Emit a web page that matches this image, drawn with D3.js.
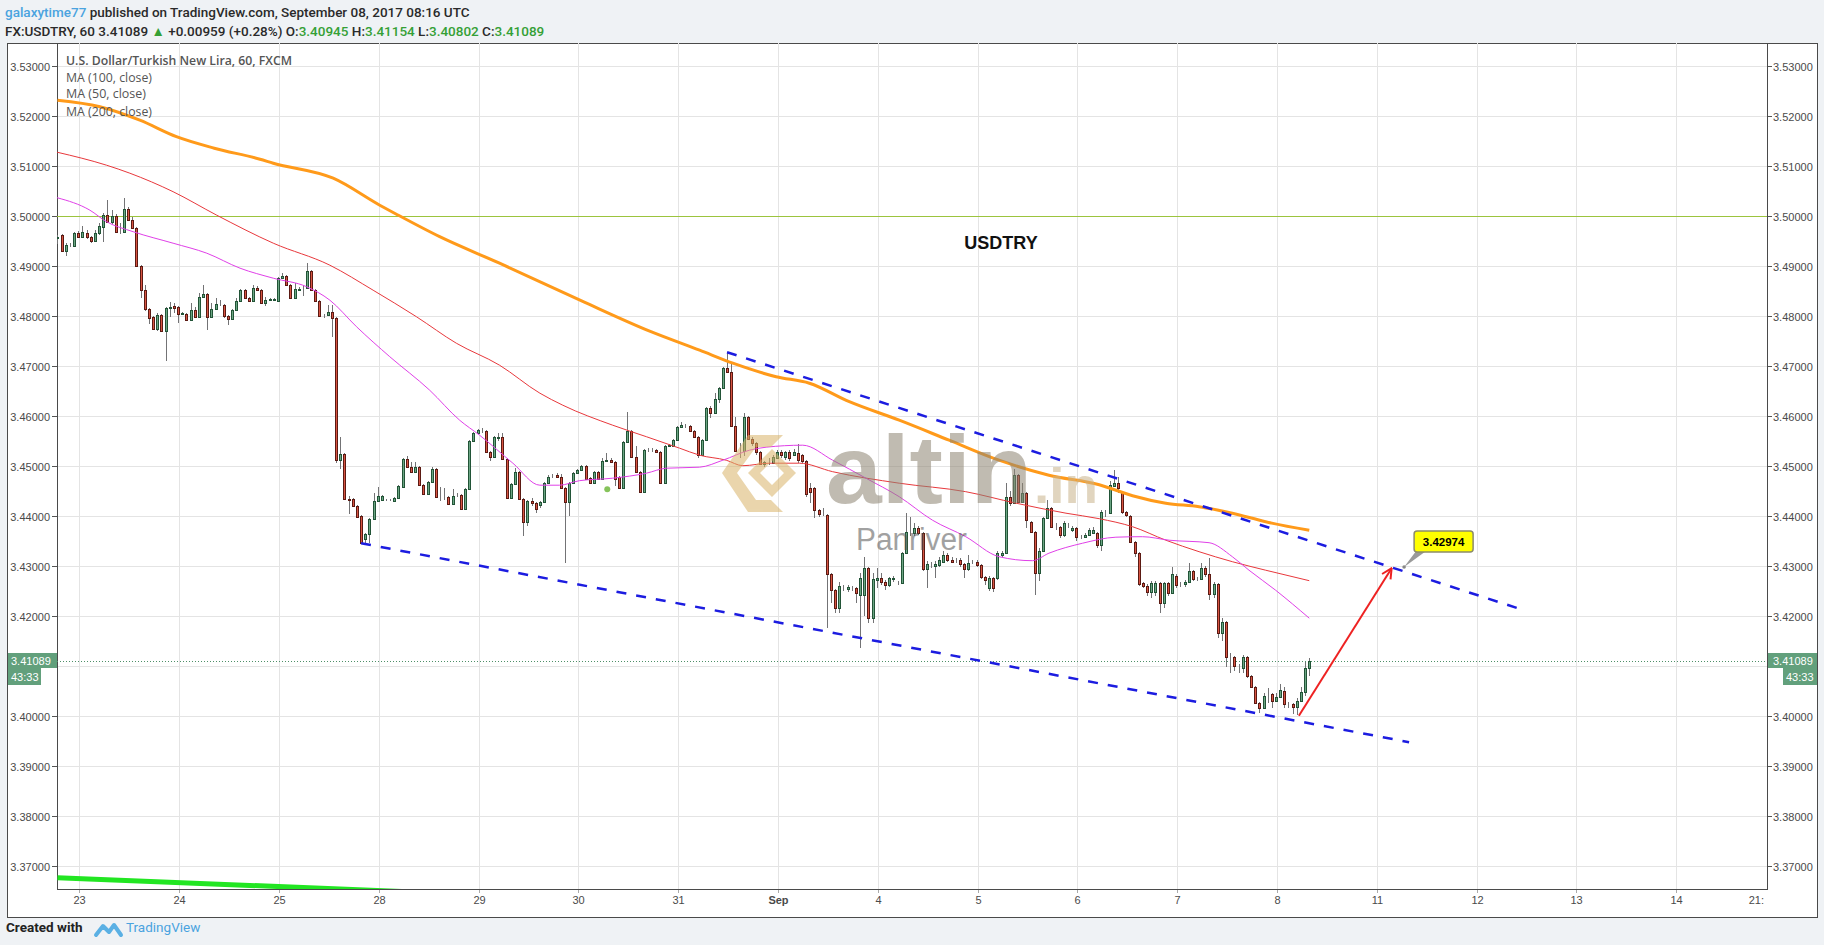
<!DOCTYPE html>
<html><head><meta charset="utf-8">
<script src="https://cdn.jsdelivr.net/npm/d3@7"></script>
<style>
html,body{margin:0;padding:0;background:#eff2f5;}
svg{display:block;}
</style></head><body>
<svg id="c" width="1824" height="945"></svg>
<script>
// ---------------- DATA ----------------
const FIRST_BAR = -6; // hourly bar index of first candle (0 = Aug 23 00:00)
// [open, high, low, close]
const ohlc = [
[3.4955,3.4962,3.4944,3.4958],[3.4961,3.4963,3.4927,3.4929],[3.4929,3.4945,3.4919,3.4942],[3.4941,3.4945,3.4938,3.4942],
[3.4939,3.4968,3.4937,3.4966],[3.4966,3.4970,3.4955,3.4957],[3.4957,3.4979,3.4955,3.4967],[3.4966,3.4972,3.4954,3.4957],
[3.4957,3.4960,3.4946,3.4949],[3.4949,3.4972,3.4947,3.4966],[3.4966,3.4985,3.4962,3.4979],[3.4977,3.5006,3.4947,3.5002],
[3.5002,3.5032,3.4985,3.4987],[3.4987,3.5012,3.4984,3.5000],[3.5000,3.5004,3.4965,3.4967],[3.4967,3.4985,3.4964,3.4968],
[3.4967,3.5036,3.4965,3.5014],[3.5014,3.5018,3.4990,3.4992],[3.4992,3.4998,3.4973,3.4975],[3.4976,3.4978,3.4897,3.4899],
[3.4899,3.4901,3.4835,3.4852],[3.4852,3.4862,3.4810,3.4813],[3.4813,3.4815,3.4783,3.4795],[3.4797,3.4800,3.4771,3.4773],
[3.4773,3.4805,3.4770,3.4801],[3.4801,3.4803,3.4768,3.4770],[3.4770,3.4818,3.4709,3.4816],[3.4816,3.4827,3.4797,3.4818],
[3.4819,3.4825,3.4805,3.4816],[3.4818,3.4820,3.4786,3.4804],[3.4804,3.4808,3.4801,3.4805],[3.4804,3.4806,3.4790,3.4792],
[3.4792,3.4825,3.4790,3.4812],[3.4812,3.4818,3.4796,3.4798],[3.4798,3.4845,3.4796,3.4837],[3.4837,3.4861,3.4835,3.4843],
[3.4843,3.4845,3.4772,3.4798],[3.4798,3.4825,3.4796,3.4814],[3.4814,3.4836,3.4812,3.4823],[3.4822,3.4832,3.4820,3.4822],
[3.4822,3.4824,3.4795,3.4800],[3.4800,3.4802,3.4782,3.4793],[3.4793,3.4814,3.4791,3.4812],[3.4812,3.4835,3.4810,3.4829],
[3.4829,3.4853,3.4827,3.4851],[3.4851,3.4853,3.4833,3.4835],[3.4835,3.4837,3.4827,3.4829],[3.4829,3.4862,3.4827,3.4855],
[3.4855,3.4860,3.4849,3.4851],[3.4851,3.4853,3.4824,3.4826],[3.4826,3.4838,3.4820,3.4831],[3.4831,3.4836,3.4829,3.4834],
[3.4831,3.4836,3.4829,3.4834],[3.4829,3.4877,3.4827,3.4875],[3.4875,3.4885,3.4873,3.4879],[3.4879,3.4882,3.4859,3.4861],
[3.4861,3.4863,3.4834,3.4836],[3.4836,3.4865,3.4834,3.4853],[3.4852,3.4857,3.4850,3.4854],[3.4855,3.4862,3.4840,3.4855],
[3.4855,3.4905,3.4853,3.4889],[3.4889,3.4892,3.4850,3.4852],[3.4852,3.4854,3.4827,3.4829],[3.4829,3.4831,3.4797,3.4799],
[3.4802,3.4804,3.4795,3.4801],[3.4802,3.4822,3.4800,3.4808],[3.4808,3.4822,3.4757,3.4795],[3.4795,3.4797,3.4505,3.4511],
[3.4511,3.4558,3.4493,3.4523],[3.4523,3.4525,3.4431,3.4433],[3.4433,3.4439,3.4403,3.4432],[3.4433,3.4435,3.4418,3.4420],
[3.4420,3.4422,3.4396,3.4398],[3.4399,3.4401,3.4343,3.4345],[3.4353,3.4365,3.4345,3.4363],[3.4363,3.4395,3.4345,3.4393],
[3.4393,3.4445,3.4391,3.4429],[3.4429,3.4458,3.4427,3.4439],[3.4431,3.4441,3.4429,3.4439],[3.4431,3.4433,3.4429,3.4431],
[3.4431,3.4433,3.4429,3.4431],[3.4429,3.4437,3.4427,3.4435],[3.4435,3.4461,3.4433,3.4459],[3.4458,3.4515,3.4456,3.4513],
[3.4513,3.4520,3.4495,3.4497],[3.4497,3.4508,3.4486,3.4488],[3.4488,3.4508,3.4486,3.4498],[3.4498,3.4500,3.4459,3.4461],
[3.4461,3.4463,3.4441,3.4443],[3.4443,3.4469,3.4441,3.4467],[3.4467,3.4498,3.4465,3.4493],[3.4493,3.4495,3.4436,3.4438],
[3.4439,3.4458,3.4430,3.4439],[3.4439,3.4455,3.4432,3.4439],[3.4438,3.4440,3.4421,3.4423],[3.4423,3.4453,3.4421,3.4439],
[3.4441,3.4445,3.4438,3.4441],[3.4441,3.4443,3.4411,3.4413],[3.4413,3.4455,3.4411,3.4453],[3.4453,3.4551,3.4451,3.4549],
[3.4549,3.4567,3.4547,3.4565],[3.4565,3.4573,3.4563,3.4571],[3.4570,3.4575,3.4566,3.4570],[3.4570,3.4572,3.4525,3.4527],
[3.4527,3.4529,3.4510,3.4517],[3.4517,3.4559,3.4515,3.4557],[3.4556,3.4565,3.4550,3.4557],[3.4557,3.4565,3.4511,3.4513],
[3.4514,3.4516,3.4434,3.4436],[3.4436,3.4465,3.4434,3.4463],[3.4463,3.4495,3.4461,3.4487],[3.4487,3.4489,3.4431,3.4433],
[3.4433,3.4435,3.4359,3.4388],[3.4388,3.4431,3.4380,3.4429],[3.4429,3.4435,3.4420,3.4426],[3.4426,3.4428,3.4405,3.4413],
[3.4421,3.4430,3.4415,3.4428],[3.4428,3.4467,3.4426,3.4465],[3.4465,3.4481,3.4463,3.4477],[3.4479,3.4483,3.4475,3.4479],
[3.4481,3.4485,3.4475,3.4477],[3.4477,3.4483,3.4453,3.4455],[3.4455,3.4457,3.4306,3.4428],[3.4428,3.4468,3.4399,3.4466],
[3.4466,3.4487,3.4464,3.4485],[3.4485,3.4493,3.4483,3.4491],[3.4491,3.4501,3.4489,3.4499],[3.4499,3.4501,3.4471,3.4473],
[3.4475,3.4477,3.4463,3.4465],[3.4465,3.4489,3.4463,3.4487],[3.4487,3.4489,3.4471,3.4473],[3.4473,3.4515,3.4471,3.4509],
[3.4509,3.4525,3.4507,3.4511],[3.4511,3.4515,3.4505,3.4507],[3.4507,3.4509,3.4460,3.4474],[3.4477,3.4479,3.4453,3.4455],
[3.4455,3.4549,3.4453,3.4547],[3.4547,3.4608,3.4545,3.4569],[3.4569,3.4571,3.4516,3.4518],[3.4518,3.4540,3.4486,3.4488],
[3.4488,3.4490,3.4445,3.4447],[3.4447,3.4533,3.4445,3.4531],[3.4531,3.4535,3.4527,3.4531],[3.4531,3.4535,3.4527,3.4531],
[3.4531,3.4533,3.4525,3.4527],[3.4527,3.4529,3.4463,3.4465],[3.4465,3.4541,3.4463,3.4539],[3.4539,3.4543,3.4537,3.4541],
[3.4539,3.4553,3.4537,3.4551],[3.4551,3.4580,3.4549,3.4578],[3.4578,3.4588,3.4576,3.4581],[3.4580,3.4584,3.4576,3.4580],
[3.4580,3.4582,3.4568,3.4570],[3.4570,3.4572,3.4555,3.4557],[3.4557,3.4559,3.4515,3.4521],[3.4521,3.4553,3.4519,3.4551],
[3.4551,3.4617,3.4549,3.4615],[3.4615,3.4620,3.4595,3.4605],[3.4605,3.4645,3.4603,3.4633],[3.4633,3.4657,3.4625,3.4655],
[3.4655,3.4697,3.4653,3.4695],[3.4695,3.4727,3.4685,3.4687],[3.4687,3.4705,3.4578,3.4580],[3.4580,3.4598,3.4527,3.4529],
[3.4529,3.4545,3.4515,3.4529],[3.4529,3.4605,3.4520,3.4597],[3.4597,3.4599,3.4551,3.4553],[3.4553,3.4558,3.4540,3.4545],
[3.4545,3.4548,3.4522,3.4528],[3.4528,3.4530,3.4501,3.4503],[3.4503,3.4510,3.4498,3.4508],[3.4506,3.4515,3.4502,3.4506],
[3.4506,3.4522,3.4504,3.4517],[3.4515,3.4532,3.4513,3.4528],[3.4528,3.4532,3.4515,3.4521],[3.4518,3.4530,3.4512,3.4528],
[3.4528,3.4532,3.4510,3.4515],[3.4521,3.4533,3.4519,3.4528],[3.4526,3.4543,3.4505,3.4511],[3.4521,3.4523,3.4505,3.4510],
[3.4510,3.4512,3.4437,3.4443],[3.4455,3.4465,3.4425,3.4447],[3.4455,3.4457,3.4395,3.4411],[3.4411,3.4413,3.4398,3.4403],
[3.4403,3.4415,3.4400,3.4403],[3.4401,3.4403,3.4175,3.4283],[3.4283,3.4285,3.4225,3.4251],[3.4251,3.4253,3.4205,3.4215],
[3.4215,3.4268,3.4205,3.4259],[3.4255,3.4262,3.4250,3.4255],[3.4253,3.4262,3.4248,3.4258],[3.4255,3.4260,3.4250,3.4255],
[3.4255,3.4258,3.4225,3.4246],[3.4241,3.4285,3.4135,3.4275],[3.4241,3.4318,3.4200,3.4295],[3.4295,3.4297,3.4185,3.4195],
[3.4195,3.4285,3.4185,3.4273],[3.4271,3.4295,3.4255,3.4275],[3.4275,3.4285,3.4262,3.4268],[3.4268,3.4272,3.4252,3.4261],
[3.4261,3.4278,3.4258,3.4275],[3.4273,3.4280,3.4268,3.4275],[3.4266,3.4270,3.4262,3.4266],[3.4266,3.4328,3.4264,3.4325],
[3.4325,3.4405,3.4323,3.4367],[3.4368,3.4398,3.4360,3.4368],[3.4365,3.4385,3.4360,3.4375],[3.4375,3.4380,3.4362,3.4365],
[3.4365,3.4367,3.4290,3.4293],[3.4293,3.4310,3.4255,3.4303],[3.4301,3.4308,3.4295,3.4301],[3.4299,3.4310,3.4275,3.4303],
[3.4301,3.4318,3.4298,3.4311],[3.4308,3.4330,3.4305,3.4321],[3.4321,3.4325,3.4308,3.4311],[3.4311,3.4318,3.4305,3.4308],
[3.4311,3.4315,3.4306,3.4311],[3.4311,3.4315,3.4298,3.4303],[3.4303,3.4306,3.4275,3.4293],[3.4293,3.4322,3.4290,3.4306],
[3.4308,3.4312,3.4303,3.4308],[3.4308,3.4312,3.4298,3.4301],[3.4301,3.4303,3.4274,3.4277],[3.4277,3.4280,3.4262,3.4271],
[3.4255,3.4280,3.4250,3.4275],[3.4275,3.4278,3.4248,3.4255],[3.4275,3.4330,3.4272,3.4325],[3.4322,3.4330,3.4318,3.4325],
[3.4325,3.4465,3.4323,3.4437],[3.4438,3.4450,3.4420,3.4425],[3.4425,3.4493,3.4423,3.4481],[3.4481,3.4483,3.4426,3.4428],
[3.4428,3.4465,3.4426,3.4445],[3.4445,3.4447,3.4375,3.4391],[3.4388,3.4390,3.4365,3.4368],[3.4368,3.4370,3.4241,3.4285],
[3.4285,3.4335,3.4270,3.4330],[3.4330,3.4397,3.4328,3.4395],[3.4395,3.4432,3.4393,3.4415],[3.4415,3.4417,3.4375,3.4378],
[3.4378,3.4385,3.4372,3.4378],[3.4378,3.4380,3.4355,3.4361],[3.4361,3.4390,3.4358,3.4385],[3.4381,3.4386,3.4375,3.4381],
[3.4371,3.4380,3.4368,3.4375],[3.4375,3.4378,3.4350,3.4358],[3.4358,3.4362,3.4354,3.4358],[3.4358,3.4365,3.4356,3.4361],
[3.4361,3.4375,3.4359,3.4371],[3.4365,3.4378,3.4363,3.4371],[3.4365,3.4367,3.4335,3.4341],[3.4341,3.4412,3.4330,3.4408],
[3.4408,3.4412,3.4398,3.4407],[3.4405,3.4470,3.4403,3.4461],[3.4459,3.4491,3.4457,3.4465],[3.4465,3.4478,3.4445,3.4455],
[3.4448,3.4450,3.4404,3.4407],[3.4407,3.4409,3.4398,3.4401],[3.4399,3.4401,3.4345,3.4347],[3.4347,3.4349,3.4318,3.4325],
[3.4325,3.4327,3.4260,3.4263],[3.4265,3.4268,3.4255,3.4260],[3.4260,3.4263,3.4240,3.4247],[3.4247,3.4270,3.4235,3.4265],
[3.4247,3.4270,3.4240,3.4265],[3.4265,3.4268,3.4205,3.4225],[3.4225,3.4268,3.4215,3.4265],[3.4265,3.4267,3.4240,3.4245],
[3.4245,3.4297,3.4243,3.4283],[3.4279,3.4283,3.4255,3.4261],[3.4263,3.4268,3.4258,3.4263],[3.4263,3.4272,3.4258,3.4267],
[3.4267,3.4305,3.4265,3.4289],[3.4289,3.4292,3.4270,3.4274],[3.4274,3.4278,3.4270,3.4274],[3.4274,3.4305,3.4272,3.4295],
[3.4295,3.4300,3.4278,3.4283],[3.4283,3.4315,3.4231,3.4243],[3.4243,3.4268,3.4235,3.4263],[3.4263,3.4265,3.4155,3.4165],
[3.4165,3.4195,3.4150,3.4188],[3.4188,3.4190,3.4098,3.4117],[3.4117,3.4125,3.4085,3.4117],[3.4117,3.4120,3.4090,3.4099],
[3.4099,3.4103,3.4085,3.4099],[3.4095,3.4122,3.4085,3.4118],[3.4117,3.4119,3.4075,3.4079],[3.4079,3.4081,3.4055,3.4058],
[3.4058,3.4060,3.4024,3.4026],[3.4026,3.4028,3.4005,3.4015],[3.4015,3.4045,3.4013,3.4039],[3.4043,3.4055,3.4025,3.4043],
[3.4043,3.4046,3.4015,3.4030],[3.4030,3.4045,3.4028,3.4037],[3.4037,3.4063,3.4035,3.4051],[3.4050,3.4058,3.4015,3.4023],
[3.4023,3.4028,3.4015,3.4023],[3.4023,3.4026,3.4003,3.4017],[3.4017,3.4035,3.4001,3.4030],[3.4030,3.4058,3.4028,3.4048],
[3.4048,3.4108,3.4040,3.4095],[3.40945,3.41154,3.40802,3.41089]
];
const lastPrice = 3.41089;
const countdown = "43:33";
const dayLabels = ["23","24","25","28","29","30","31","Sep","4","5","6","7","8","11","12","13","14"];
const priceTicks = [3.37,3.38,3.39,3.40,3.41,3.42,3.43,3.44,3.45,3.46,3.47,3.48,3.49,3.50,3.51,3.52,3.53];
// moving averages: [bar index, value]
const ma200 = [[-6,3.5231],[4.2,3.5218],[13.8,3.5191],[22.6,3.5158],[31.7,3.5135],[42.7,3.5113],[45.9,3.5105],[60.3,3.5075],[71.5,3.5021],[75.5,3.5003],[85.9,3.4958],[100.3,3.4905],[119.9,3.4830],[136.7,3.4768],[148.4,3.4731],[156.4,3.4705],[166.8,3.4678],[174.8,3.4665],[184.4,3.4628],[196.4,3.4591],[208.4,3.4551],[220.4,3.4511],[232.4,3.4481],[244.5,3.4462],[252.5,3.4440],[260.5,3.4425],[268.5,3.4418],[276.5,3.4405],[284.5,3.4388],[295,3.4371]];
const ma100 = [[-6.1,3.5127],[5.8,3.5101],[11.4,3.5085],[21.8,3.5048],[32.3,3.5001],[45.9,3.4945],[59.5,3.4901],[69.9,3.4851],[80.3,3.4798],[89.9,3.4745],[100.3,3.4701],[110,3.4645],[115.5,3.4621],[127.5,3.4581],[135.6,3.4558],[143.6,3.4535],[148.4,3.4521],[154.8,3.4511],[158.8,3.4500],[165.2,3.4505],[172.4,3.4505],[180.4,3.4488],[196.4,3.4465],[212.4,3.4448],[224.5,3.4425],[236.5,3.4405],[244.5,3.4394],[252.5,3.4378],[260.5,3.4351],[268.5,3.4328],[276.5,3.4308],[284.5,3.4291],[295,3.4270]];
const ma50 = [[-6.1,3.5036],[1.8,3.5011],[5.8,3.4988],[12.2,3.4968],[21.8,3.4945],[29.9,3.4925],[37.9,3.4895],[45.9,3.4875],[53.9,3.4858],[59.5,3.4831],[65.9,3.4778],[73.9,3.4718],[83.5,3.4651],[90.7,3.4591],[95.5,3.4561],[103.5,3.4505],[110,3.4461],[114.7,3.4461],[119.5,3.4470],[127.5,3.4475],[135.6,3.4485],[140.4,3.4495],[148.4,3.4497],[154,3.4511],[160.4,3.4531],[164.4,3.4537],[173.2,3.4541],[180.4,3.4511],[188.4,3.4475],[196.4,3.4438],[204.4,3.4391],[212.4,3.4358],[220.4,3.4318],[228.4,3.4310],[232.4,3.4325],[240.5,3.4345],[248.5,3.4357],[254.9,3.4358],[261.3,3.4351],[270.9,3.4346],[276.5,3.4318],[280.5,3.4291],[286.9,3.4251],[295,3.4195]];
const legendLines = ["U.S. Dollar/Turkish New Lira, 60, FXCM","MA (100, close)","MA (50, close)","MA (200, close)"];
const upperTrend = [[155,3.4727],[346.6,3.4211]];
const lowerTrend = [[67,3.4345],[319,3.3947]];
const greenLine = [[-6,3.3676],[120,3.3634]];
const levelLine = 3.5;
const arrowPts = [[292.5,3.4000],[314.8,3.4295]];
const calloutPt = [317.8,3.42974];
const eventDot = [126.2,3.4453];

// ---------------- LAYOUT ----------------
const svg = d3.select("#c");
const P = {l:57, r:1767, t:43, b:889};
const BAR_OFFSET = 0.75;
const x = d3.scaleLinear().domain([0, 384]).range([79.3, 1676.3]);
const X = i => x(i + BAR_OFFSET);
const y = d3.scaleLinear().domain([3.37, 3.53]).range([865.7, 65.7]);
const ly = Math.round(y(lastPrice));

// outer chart box
svg.append("rect").attr("x",7.5).attr("y",43.5).attr("width",1810).attr("height",874)
  .attr("fill","#fff").attr("stroke","#4a4a4a");

// clip
const defs = svg.append("defs");
defs.append("clipPath").attr("id","plot")
  .append("rect").attr("x",P.l).attr("y",P.t).attr("width",P.r-P.l).attr("height",P.b-P.t);

// grid
const grid = svg.append("g").attr("clip-path","url(#plot)");
priceTicks.forEach(p=>{
  const yy = Math.round(y(p))+0.5;
  grid.append("line").attr("x1",P.l).attr("x2",P.r).attr("y1",yy).attr("y2",yy).attr("stroke","#e4e4e4");
});
dayLabels.forEach((d,k)=>{
  const xx = Math.round(x(k*24))+0.5;
  grid.append("line").attr("x1",xx).attr("x2",xx).attr("y1",P.t).attr("y2",P.b).attr("stroke","#e4e4e4");
});

// axes
const axes = svg.append("g").attr("font-family","'Liberation Sans', Arial, sans-serif").attr("font-size",11).attr("fill","#4a4a4a");
priceTicks.forEach(p=>{
  const yy = Math.round(y(p))+0.5;
  axes.append("line").attr("x1",P.l-5).attr("x2",P.l).attr("y1",yy).attr("y2",yy).attr("stroke","#555");
  axes.append("line").attr("x1",P.r).attr("x2",P.r+5).attr("y1",yy).attr("y2",yy).attr("stroke","#555");
  // labels hidden under the last-price badge are not shown (as in the reference)
  if (Math.abs(yy - ly) < 26 && yy > ly - 10) return;
  axes.append("text").attr("x",P.l-7).attr("y",yy+4).attr("text-anchor","end").text(p.toFixed(5));
  axes.append("text").attr("x",P.r+6).attr("y",yy+4).text(p.toFixed(5));
});
dayLabels.forEach((d,k)=>{
  const xx = Math.round(x(k*24))+0.5;
  axes.append("line").attr("x1",xx).attr("x2",xx).attr("y1",P.b).attr("y2",P.b+4).attr("stroke","#aaa");
  axes.append("text").attr("x",xx).attr("y",P.b+15).attr("text-anchor","middle")
    .attr("font-weight", d==="Sep" ? "bold":"normal").text(d);
});
axes.append("text").attr("x",P.r-3).attr("y",P.b+15).attr("text-anchor","end").text("21:");
// axis lines
svg.append("line").attr("x1",P.l+0.5).attr("x2",P.l+0.5).attr("y1",P.t).attr("y2",P.b).attr("stroke","#4a4a4a");
svg.append("line").attr("x1",P.r+0.5).attr("x2",P.r+0.5).attr("y1",P.t).attr("y2",P.b+1).attr("stroke","#4a4a4a");
svg.append("line").attr("x1",P.l).attr("x2",P.r+1).attr("y1",P.b+0.5).attr("y2",P.b+0.5).attr("stroke","#4a4a4a");

const plot = svg.append("g").attr("clip-path","url(#plot)");

// level line 3.50
plot.append("line").attr("x1",P.l).attr("x2",P.r).attr("y1",Math.round(y(levelLine))+0.5).attr("y2",Math.round(y(levelLine))+0.5)
  .attr("stroke","#9cc43e").attr("stroke-width",1);

// bright green line bottom
plot.append("line").attr("x1",X(greenLine[0][0])).attr("y1",y(greenLine[0][1]))
  .attr("x2",X(greenLine[1][0])).attr("y2",y(greenLine[1][1]))
  .attr("stroke","#22e622").attr("stroke-width",5);

// last price dotted line
plot.append("line").attr("x1",P.l).attr("x2",P.r).attr("y1",ly+0.5).attr("y2",ly+0.5)
  .attr("stroke","#4e8f68").attr("stroke-dasharray","1,2");

// candles
const cg = plot.append("g").attr("shape-rendering","crispEdges");
ohlc.forEach((d,k)=>{
  const i = FIRST_BAR + k;
  const [o,h,l,c] = d;
  const cx = Math.round(X(i));
  const up = c >= o;
  cg.append("line").attr("x1",cx+0.5).attr("x2",cx+0.5).attr("y1",y(h)).attr("y2",y(l)).attr("stroke","#737375");
  const top = Math.round(y(Math.max(o,c))), bot = Math.round(y(Math.min(o,c)));
  cg.append("rect").attr("x",cx-0.5).attr("y",top+0.5).attr("width",2).attr("height",Math.max(0,bot-top))
    .attr("fill", up ? "#6ba583" : "#d75442").attr("stroke", up ? "#225437" : "#5b1a13");
});

// event dot
plot.append("circle").attr("cx",X(eventDot[0])).attr("cy",y(eventDot[1])).attr("r",3).attr("fill","#86c35b");

// MAs
const line = d3.line().x(d=>X(d[0])).y(d=>y(d[1])).curve(d3.curveMonotoneX);
plot.append("path").datum(ma100).attr("d",line).attr("fill","none").attr("stroke","#e8383c").attr("stroke-width",1);
plot.append("path").datum(ma50).attr("d",line).attr("fill","none").attr("stroke","#e040e8").attr("stroke-width",1);
plot.append("path").datum(ma200).attr("d",line).attr("fill","none").attr("stroke","#ff9a1a").attr("stroke-width",3);

// watermark (altin.in / Panriver)
const wm = plot.append("g").attr("opacity",0.55);
wm.append("path").attr("d","M783,435 L748,435 L722,473 L748,512 L783,512 L771,500 L756,500 L737,473 L756,447 L771,447 Z")
  .attr("fill","#d9b46a");
wm.append("path").attr("d","M772,449 L796,473 L772,497 L748,473 Z M772,461 L760,473 L772,485 L784,473 Z")
  .attr("fill","#d9b46a").attr("fill-rule","evenodd");
wm.append("text").attr("x",826).attr("y",503).attr("font-family","'Liberation Sans', Arial, sans-serif")
  .attr("font-weight","bold").attr("font-size",96).attr("textLength",206).attr("lengthAdjust","spacingAndGlyphs")
  .attr("fill","#8e8573").text("altin");
wm.append("text").attr("x",1034).attr("y",503).attr("font-family","'Liberation Sans', Arial, sans-serif")
  .attr("font-weight","bold").attr("font-size",50).attr("textLength",64).attr("lengthAdjust","spacingAndGlyphs")
  .attr("fill","#c9b48c").text(".in");
wm.append("text").attr("x",856).attr("y",550).attr("font-family","'Liberation Sans', Arial, sans-serif")
  .attr("font-size",31).attr("textLength",111).attr("lengthAdjust","spacingAndGlyphs")
  .attr("fill","#555").text("Panriver");

// trend lines
[upperTrend, lowerTrend].forEach(t=>{
  plot.append("line").attr("x1",X(t[0][0])).attr("y1",y(t[0][1])).attr("x2",X(t[1][0])).attr("y2",y(t[1][1]))
    .attr("stroke","#1c1ce0").attr("stroke-width",2.5).attr("stroke-dasharray","10,10");
});

// arrow
defs.append("marker").attr("id","ah").attr("viewBox","0 0 12 12").attr("refX",11).attr("refY",6)
  .attr("markerWidth",12).attr("markerHeight",12).attr("markerUnits","userSpaceOnUse").attr("orient","auto")
  .append("path").attr("d","M1,1 L11,6 L1,11").attr("fill","none").attr("stroke","#ee2222").attr("stroke-width",2);
plot.append("line").attr("x1",X(arrowPts[0][0])).attr("y1",y(arrowPts[0][1]))
  .attr("x2",X(arrowPts[1][0])).attr("y2",y(arrowPts[1][1]))
  .attr("stroke","#ee2222").attr("stroke-width",2).attr("marker-end","url(#ah)");

// callout
const cpx = X(calloutPt[0]), cpy = y(calloutPt[1]);
plot.append("path").attr("d",`M${cpx},${cpy} L${cpx+12},${cpy-16} L${cpx+22},${cpy-16} Z`).attr("fill","#9a9a9a");
plot.append("circle").attr("cx",cpx).attr("cy",cpy).attr("r",1.8).attr("fill","#888");
plot.append("rect").attr("x",cpx+10).attr("y",cpy-36).attr("width",59).attr("height",21).attr("rx",3)
  .attr("fill","#ffff00").attr("stroke","#8c8c6a").attr("stroke-width",1.5);
plot.append("text").attr("x",cpx+39.5).attr("y",cpy-21.5).attr("text-anchor","middle")
  .attr("font-family","'Liberation Sans', Arial, sans-serif").attr("font-weight","bold").attr("font-size",11.5)
  .attr("fill","#000").text(calloutPt[1].toFixed(5));

// USDTRY title
plot.append("text").attr("x",1001).attr("y",249).attr("text-anchor","middle")
  .attr("font-family","'Liberation Sans', Arial, sans-serif").attr("font-weight","bold").attr("font-size",18)
  .attr("fill","#111").text("USDTRY");

// legend
const lg = svg.append("g").attr("font-family","'Open Sans', sans-serif").attr("font-size",12).attr("fill","#555");
[65,81.5,98,115.5].forEach((yy,k)=>{
  lg.append("text").attr("x",66).attr("y",yy).attr("font-weight", k===0 ? 600 : 400)
    .attr("textLength", [226,86,80,86][k]).attr("lengthAdjust","spacingAndGlyphs").text(legendLines[k]);
});

// price badges on axes
svg.append("rect").attr("x",8).attr("y",ly-8).attr("width",49).attr("height",15).attr("fill","#62a07c");
svg.append("rect").attr("x",8).attr("y",ly+7).attr("width",33).attr("height",17).attr("fill","#62a07c");
svg.append("rect").attr("x",1768).attr("y",ly-8).attr("width",49).attr("height",15).attr("fill","#62a07c");
svg.append("rect").attr("x",1783).attr("y",ly+7).attr("width",34).attr("height",17).attr("fill","#62a07c");
const pl = svg.append("g").attr("font-family","'Liberation Sans', Arial, sans-serif").attr("font-size",11).attr("fill","#fff");
pl.append("text").attr("x",11).attr("y",ly+4).text(lastPrice.toFixed(5));
pl.append("text").attr("x",11).attr("y",ly+20).text(countdown);
pl.append("text").attr("x",1773).attr("y",ly+4).text(lastPrice.toFixed(5));
pl.append("text").attr("x",1786).attr("y",ly+20).text(countdown);

// header (natural widths, no compression)
const hf = "'Roboto', 'Liberation Sans', sans-serif";
const h1 = svg.append("text").attr("x",5).attr("y",17).attr("font-family",hf).attr("font-size",13.5)
  .attr("font-weight",500);
h1.append("tspan").attr("fill","#4aa3df").text("galaxytime77");
h1.append("tspan").attr("fill","#2a2a2a").text(" published on TradingView.com, September 08, 2017 08:16 UTC");
const G = "#35a035", D = "#2a2a2a";
const parts = [["FX:USDTRY, 60  3.41089 ",D],["\u25B2",G],[" +0.00959 (+0.28%) ",D],["O:",D],["3.40945",G],[" H:",D],["3.41154",G],[" L:",D],["3.40802",G],[" C:",D],["3.41089",G]];
const h2 = svg.append("text").attr("x",5).attr("y",36).attr("font-family",hf).attr("font-size",13.5)
  .attr("font-weight",500);
parts.forEach(p=>h2.append("tspan").attr("fill",p[1]).text(p[0]));

// footer
svg.append("text").attr("x",6).attr("y",932).attr("font-family",hf).attr("font-size",13.5).attr("font-weight",700)
  .attr("fill","#222").text("Created with");
svg.append("path").attr("d","M96,935 L103,926 L109,932 L114,925 L121,935").attr("fill","none")
  .attr("stroke","#5ab0e4").attr("stroke-width",4).attr("stroke-linejoin","round").attr("stroke-linecap","round");
svg.append("text").attr("x",126).attr("y",932).attr("font-family",hf).attr("font-size",13.5)
  .attr("fill","#4aa3df").text("TradingView");
</script>
</body></html>
